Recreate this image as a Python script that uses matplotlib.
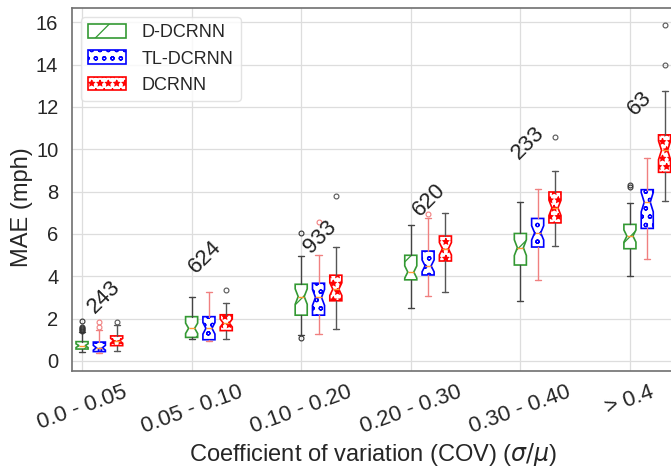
import matplotlib
matplotlib.use('Agg')
import matplotlib.pyplot as plt
import seaborn as sns
import numpy as np

categories = ['0.0 - 0.05', '0.05 - 0.10', '0.10 - 0.20', '0.20 - 0.30', '0.30 - 0.40', '> 0.4']
counts = [243, 624, 933, 620, 233, 63]
models = ['D-DCRNN', 'TL-DCRNN', 'DCRNN']

# D-DCRNN
d_whislo = [0.44, 1.04, 1.22, 2.52, 2.84, 4.01]
d_q1 = [0.56, 1.11, 2.16, 3.83, 4.53, 5.30]
d_med = [0.72, 1.54, 3.04, 4.20, 5.35, 5.90]
d_q3 = [0.91, 2.09, 3.62, 4.99, 6.02, 6.45]
d_whishi = [1.35, 3.04, 4.96, 6.42, 7.51, 7.47]
d_fliers = [[1.90, 1.62, 1.55, 1.50, 1.45, 1.40], [], [6.02, 1.08], [], [], [8.20, 8.30]]

# TL-DCRNN
tl_whislo = [0.38, 0.93, 1.27, 3.07, 3.83, 4.80]
tl_q1 = [0.44, 1.00, 2.16, 4.06, 5.38, 6.26]
tl_med = [0.62, 1.54, 3.00, 4.49, 6.05, 7.50]
tl_q3 = [0.89, 2.09, 3.67, 5.19, 6.73, 8.09]
tl_whishi = [1.45, 3.26, 4.99, 6.76, 8.13, 9.58]
tl_fliers = [[1.82, 1.62], [], [6.57], [6.96], [], []]

# DCRNN
dc_whislo = [0.48, 1.04, 1.50, 3.26, 5.43, 7.54]
dc_q1 = [0.72, 1.43, 2.84, 4.72, 6.52, 8.91]
dc_med = [0.95, 1.79, 3.39, 5.30, 7.23, 9.95]
dc_q3 = [1.18, 2.18, 4.05, 5.90, 7.98, 10.68]
dc_whishi = [1.69, 2.73, 5.40, 7.00, 8.96, 12.77]
dc_fliers = [[1.85], [3.36], [7.78], [], [10.60], [15.86, 13.98]]

# count label placement (layout)
count_x_off = [0.20, 0.12, 0.17, 0.17, 0.07, 0.09]
count_y = [3.02, 4.91, 5.86, 7.60, 10.30, 12.19]

sns.set_style('whitegrid')
plt.rcParams['font.family'] = ['Liberation Sans', 'DejaVu Sans']
plt.rcParams['mathtext.fontset'] = 'dejavusans'
plt.rcParams['hatch.linewidth'] = 0.9

fig = plt.figure(figsize=(6.71, 4.71), dpi=100)
ax = fig.add_axes([0.1066, 0.2113, 0.8975, 0.7711])

def make_stats(wl, q1, med, q3, wh, fl):
    out = []
    for i in range(len(med)):
        iqr = q3[i] - q1[i]
        out.append(dict(whislo=wl[i], q1=q1[i], med=med[i], q3=q3[i], whishi=wh[i],
                        fliers=fl[i], cilo=med[i] - 0.25 * iqr, cihi=med[i] + 0.25 * iqr))
    return out

series = [
    (make_stats(d_whislo, d_q1, d_med, d_q3, d_whishi, d_fliers), '#339933', '/', '#444444', '#333333'),
    (make_stats(tl_whislo, tl_q1, tl_med, tl_q3, tl_whishi, tl_fliers), '#0000ff', 'oo', '#f08080', '#f08080'),
    (make_stats(dc_whislo, dc_q1, dc_med, dc_q3, dc_whishi, dc_fliers), '#ff0000', '**', '#555555', '#555555'),
]
offsets = [0.0, 0.158, 0.316]
base = np.arange(len(categories))
handles = []
for (stats, col, hatch, wcol, fcol), off in zip(series, offsets):
    bp = ax.bxp(stats, positions=base + off, widths=0.11, shownotches=True, patch_artist=True,
                boxprops=dict(facecolor='white', edgecolor=col, hatch=hatch, linewidth=1.2),
                whiskerprops=dict(color=wcol, linewidth=1.0),
                capprops=dict(color=wcol, linewidth=1.0),
                medianprops=dict(color='#ff9933', linewidth=1.0),
                flierprops=dict(marker='o', markersize=3.5, markerfacecolor='none',
                                markeredgecolor=fcol, markeredgewidth=0.8),
                manage_ticks=False)
    handles.append(bp['boxes'][0])

for i, c in enumerate(counts):
    ax.text(base[i] + count_x_off[i], count_y[i], str(c), rotation=45, ha='center', va='center',
            fontsize=16, color='#222222')

ax.set_xlim(-0.096, 5.40)
ax.set_ylim(-0.5, 16.66)
ax.set_xticks(base)
ax.set_xticklabels(categories, rotation=20, ha='center', fontsize=16)
ax.set_yticks(np.arange(0, 17, 2))
ax.tick_params(axis='y', labelsize=14.5, pad=6)
ax.tick_params(axis='x', pad=4)
ax.set_ylabel('MAE (mph)', fontsize=17)
ax.yaxis.set_label_coords(-0.064, 0.453)
ax.set_xlabel(r'Coefficient of variation (COV) ($\sigma/\mu$)', fontsize=17, labelpad=2)
ax.grid(True, color='#dddddd', linewidth=0.9)
for s in ax.spines.values():
    s.set_edgecolor('#707070')
    s.set_linewidth(1.2)

ax.legend(handles, models, loc='upper left', bbox_to_anchor=(0.0158, 0.976), borderaxespad=0,
          fontsize=13, handlelength=2.1, handleheight=0.8, handletextpad=0.85,
          labelspacing=0.5, frameon=True, edgecolor='#dddddd', fancybox=True)

fig.savefig('out.png', dpi=100)
